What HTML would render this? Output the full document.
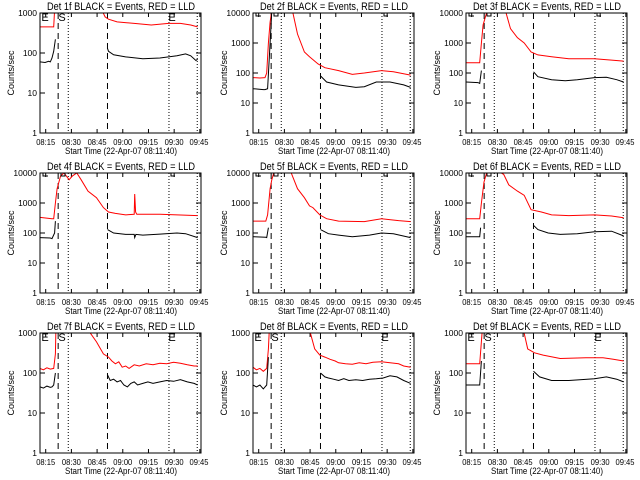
<!DOCTYPE html>
<html><head><meta charset="utf-8"><style>
html,body{margin:0;padding:0;background:#fff;}
svg{display:block;font-family:"Liberation Sans",sans-serif;}
</style></head><body>
<svg id="chart" width="640" height="480" viewBox="0 0 640 480" xmlns="http://www.w3.org/2000/svg"></svg>
<script>
// ---- data (minutes since 08:11:40, counts/sec); null breaks the line ----
const panelNames = ["1f","2f","3f","4f","5f","6f","7f","8f","9f"];
const panelTopDecade = [3,4,4,4,4,4,3,3,3];
const xTickLabels = ["08:15","08:30","08:45","09:00","09:15","09:30","09:45"];
const xTickMinutes = [3.33,18.33,33.33,48.33,63.33,78.33,93.33];
const dashedMinutes = [10.6,39.4];
const dottedMinutes = [16.5,75.3,91.8];

const t1r=[0,8,8.5,null,36,38,40,45,55,65,75,82,88,92];
const v1r=[450,450,1200,null,1200,800,700,600,550,500,550,550,500,450];
const t1b=[0,3,5,6,7,8,9,null,39.4,40,43,50,60,70,75,80,85,88,91,92];
const v1b=[60,58,62,60,75,110,220,null,130,110,90,80,72,75,80,85,95,85,65,70];

const t2r=[0,4,7,8,9,10,11,null,23,26,30,33,38,42,50,58,65,75,82,92];
const v2r=[70,68,70,100,1000,5000,12000,null,12000,2000,500,350,200,150,120,90,100,120,110,85];
const t2b=[0,6,7,8.5,10,11,null,39.4,43,50,60,65,72,80,88,92];
const v2b=[30,28,28,30,1000,12000,null,80,50,40,33,35,50,50,40,33];

const t3r=[0,8,9,10,11.5,12.5,null,23,26,30,34,38,42,50,60,75,85,92];
const v3r=[220,220,1000,4000,8000,12000,null,12000,3000,1500,1000,500,400,350,300,300,270,250];
const t3b=[0,7,8,9,null,39.4,42,50,58,65,75,82,88,92];
const v3b=[50,48,45,120,null,110,75,60,55,60,70,72,60,50];

const t4r=[0,7,8,9,10,12,14,17,19,21.5,24,28,33,37,40,44,50,55,55.3,55.8,56.5,70,80,92];
const v4r=[330,300,300,1000,3000,8000,10000,6000,8000,10000,6000,2500,1500,700,500,450,400,420,2000,500,420,420,400,380];
const t4b=[0,6,7,8.5,9,null,39.4,43,50,55,55.3,56,60,70,80,85,92];
const v4b=[70,68,65,100,250,null,130,100,90,90,70,90,85,92,100,95,70];

const t5r=[0,7.5,8.5,10,11,12.5,null,21.8,26,30,33,35,39,43,50,65,75,85,92];
const v5r=[250,250,400,3000,6000,12000,null,12000,3000,1500,800,700,400,300,250,240,300,260,240];
const t5b=[0,7.5,8,9,null,39.4,44,50,58,68,75,82,92];
const v5b=[75,72,70,150,null,130,95,85,75,85,100,95,70];

const t6r=[0,8,9,10.5,12,16,20,22,25,30,34,38,44,50,60,75,85,92];
const v6r=[300,300,1000,5000,10000,10500,10500,9000,4000,2500,1800,600,500,400,380,400,370,320];
const t6b=[0,8,8.5,null,39.4,42,48,55,65,75,85,92];
const v6b=[75,75,150,null,180,130,100,90,95,110,115,80];

const t7r=[0,2,4,6,8,9,9.3,null,28,33,37,40,42,44,46,48,50,52,55,58,62,66,70,74,78,82,86,90,92];
const v7r=[130,120,135,125,130,300,1200,null,1200,600,300,250,200,170,190,140,150,130,160,150,170,160,175,170,185,175,160,150,150];
const t7b=[0,2,4,6,7,8,9,null,39.4,41,43,45,47,49,51,53,55,57,60,63,66,70,74,78,82,86,90,92];
const v7b=[45,42,47,44,45,50,100,null,90,65,70,60,65,50,45,55,60,50,55,60,55,60,65,62,68,60,55,50];

const t8r=[0,2,4,6,8,9,9.5,null,33,36,39,42,45,48,50,54,58,62,66,70,75,80,85,88,92];
const v8r=[140,120,130,110,130,400,1200,null,1200,400,280,250,220,200,180,170,165,180,170,185,190,180,170,150,140];
const t8b=[0,2,4,6,8,9,null,39.4,42,44,47,50,53,56,60,64,68,72,76,80,84,88,92];
const v8b=[50,45,50,40,50,250,null,100,80,75,70,65,72,65,68,65,70,72,75,85,80,65,55];

const t9r=[0,8,9.5,null,33.5,36,40,45,55,70,80,86,92];
const v9r=[170,170,1200,null,1200,400,320,280,230,240,240,220,200];
const t9b=[0,8,9,null,39.4,43,50,60,75,82,88,92];
const v9b=[50,50,200,null,110,80,65,65,72,80,70,60];

const redTimes=[t1r,t2r,t3r,t4r,t5r,t6r,t7r,t8r,t9r];
const redValues=[v1r,v2r,v3r,v4r,v5r,v6r,v7r,v8r,v9r];
const blackTimes=[t1b,t2b,t3b,t4b,t5b,t6b,t7b,t8b,t9b];
const blackValues=[v1b,v2b,v3b,v4b,v5b,v6b,v7b,v8b,v9b];

// ---- drawing ----
const NS="http://www.w3.org/2000/svg";
const svg=document.getElementById("chart");
const BX0=40,BX1=201,BY0=13,BY1=133,TMAX=94;
function mk(tag,attrs,parent){const e=document.createElementNS(NS,tag);for(const k in attrs)e.setAttribute(k,attrs[k]);parent.appendChild(e);return e;}
function xs(m){return BX0+m*(BX1-BX0)/TMAX;}

for(let p=0;p<9;p++){
  const ox=(p%3)*213, oy=Math.floor(p/3)*160, top=panelTopDecade[p];
  const ys=v=>BY1-Math.log10(v)/top*(BY1-BY0);
  const g=mk("g",{transform:`translate(${ox},${oy})`},svg);
  
  
  const cp=mk("clipPath",{id:"cp"+p},g);
  mk("rect",{x:BX0,y:BY0,width:BX1-BX0,height:BY1-BY0},cp);
  const title=mk("text",{x:121,y:10,"font-size":"11","text-anchor":"middle",textLength:"148",lengthAdjust:"spacingAndGlyphs"},g);
  title.textContent="Det "+panelNames[p]+" BLACK = Events, RED = LLD";
  
  
  const ylab=mk("text",{x:0,y:0,"font-size":"9","text-anchor":"middle",transform:"translate(14,73) rotate(-90)"},g);
  ylab.textContent="Counts/sec";
  
  
  const xlab=mk("text",{x:121,y:154,"font-size":"9","text-anchor":"middle",textLength:"112",lengthAdjust:"spacingAndGlyphs"},g);
  xlab.textContent="Start Time (22-Apr-07 08:11:40)";
  
  
  // y ticks
  for(let d=0;d<=top;d++){
    const y=ys(Math.pow(10,d));
    mk("line",{x1:BX0,x2:BX0+5,y1:y,y2:y,stroke:"#000","stroke-width":1},g);
    mk("line",{x1:BX1-5,x2:BX1,y1:y,y2:y,stroke:"#000","stroke-width":1},g);
    const tl=mk("text",{x:37,y:y+3,"font-size":"8.5","text-anchor":"end"},g);
    tl.textContent=String(Math.pow(10,d));
    
    
  }
  // x ticks
  xTickLabels.forEach((lab,i)=>{
    const x=xs(xTickMinutes[i]);
    mk("line",{x1:x,x2:x,y1:BY1,y2:BY1-4,stroke:"#000"},g);
    mk("line",{x1:x,x2:x,y1:BY0,y2:BY0+4,stroke:"#000"},g);
    const tl=mk("text",{x:Math.min(x,199),y:145,"font-size":"8.5","text-anchor":"middle",textLength:"19",lengthAdjust:"spacingAndGlyphs"},g);
    tl.textContent=lab;
    
    
  });
  // markers
  dashedMinutes.forEach(m=>{const l=mk("line",{x1:xs(m),x2:xs(m),y1:BY0,y2:BY1,stroke:"#000","stroke-dasharray":"6,4"},g);
    
    });
  dottedMinutes.forEach(m=>{const l=mk("line",{x1:xs(m),x2:xs(m),y1:BY0,y2:BY1,stroke:"#000","stroke-dasharray":"1,2"},g);
    
    });
  // series
  function series(ts,vs,color,name){
    let d="",pen=false;
    for(let i=0;i<ts.length;i++){
      if(ts[i]===null){pen=false;continue;}
      d+=(pen?"L":"M")+xs(ts[i]).toFixed(1)+","+ys(vs[i]).toFixed(1);
      pen=true;
    }
    const pa=mk("path",{d:d,fill:"none",stroke:color,"stroke-width":1,"clip-path":`url(#cp${p})`},g);
    
    
  }
  series(redTimes[p],redValues[p],"#ff0000","red-lld-series");
  series(blackTimes[p],blackValues[p],"#000000","black-events-series");
  // box
  mk("rect",{x:BX0,y:BY0,width:BX1-BX0,height:BY1-BY0,fill:"none",stroke:"#000","stroke-width":1},g);
  // E/S labels
  if(top===3){
    [["E",45],["S",62],["E",172]].forEach(a=>{const t=mk("text",{x:a[1],y:21,"font-size":"11","text-anchor":"middle"},g);
      t.textContent=a[0];
      
      });
  } else {
    mk("path",{d:"M43,13V16H48 M61,13V16H65V13 M171,13V16H175",fill:"none",stroke:"#000"},g);
  }
}
</script>
</body></html>
